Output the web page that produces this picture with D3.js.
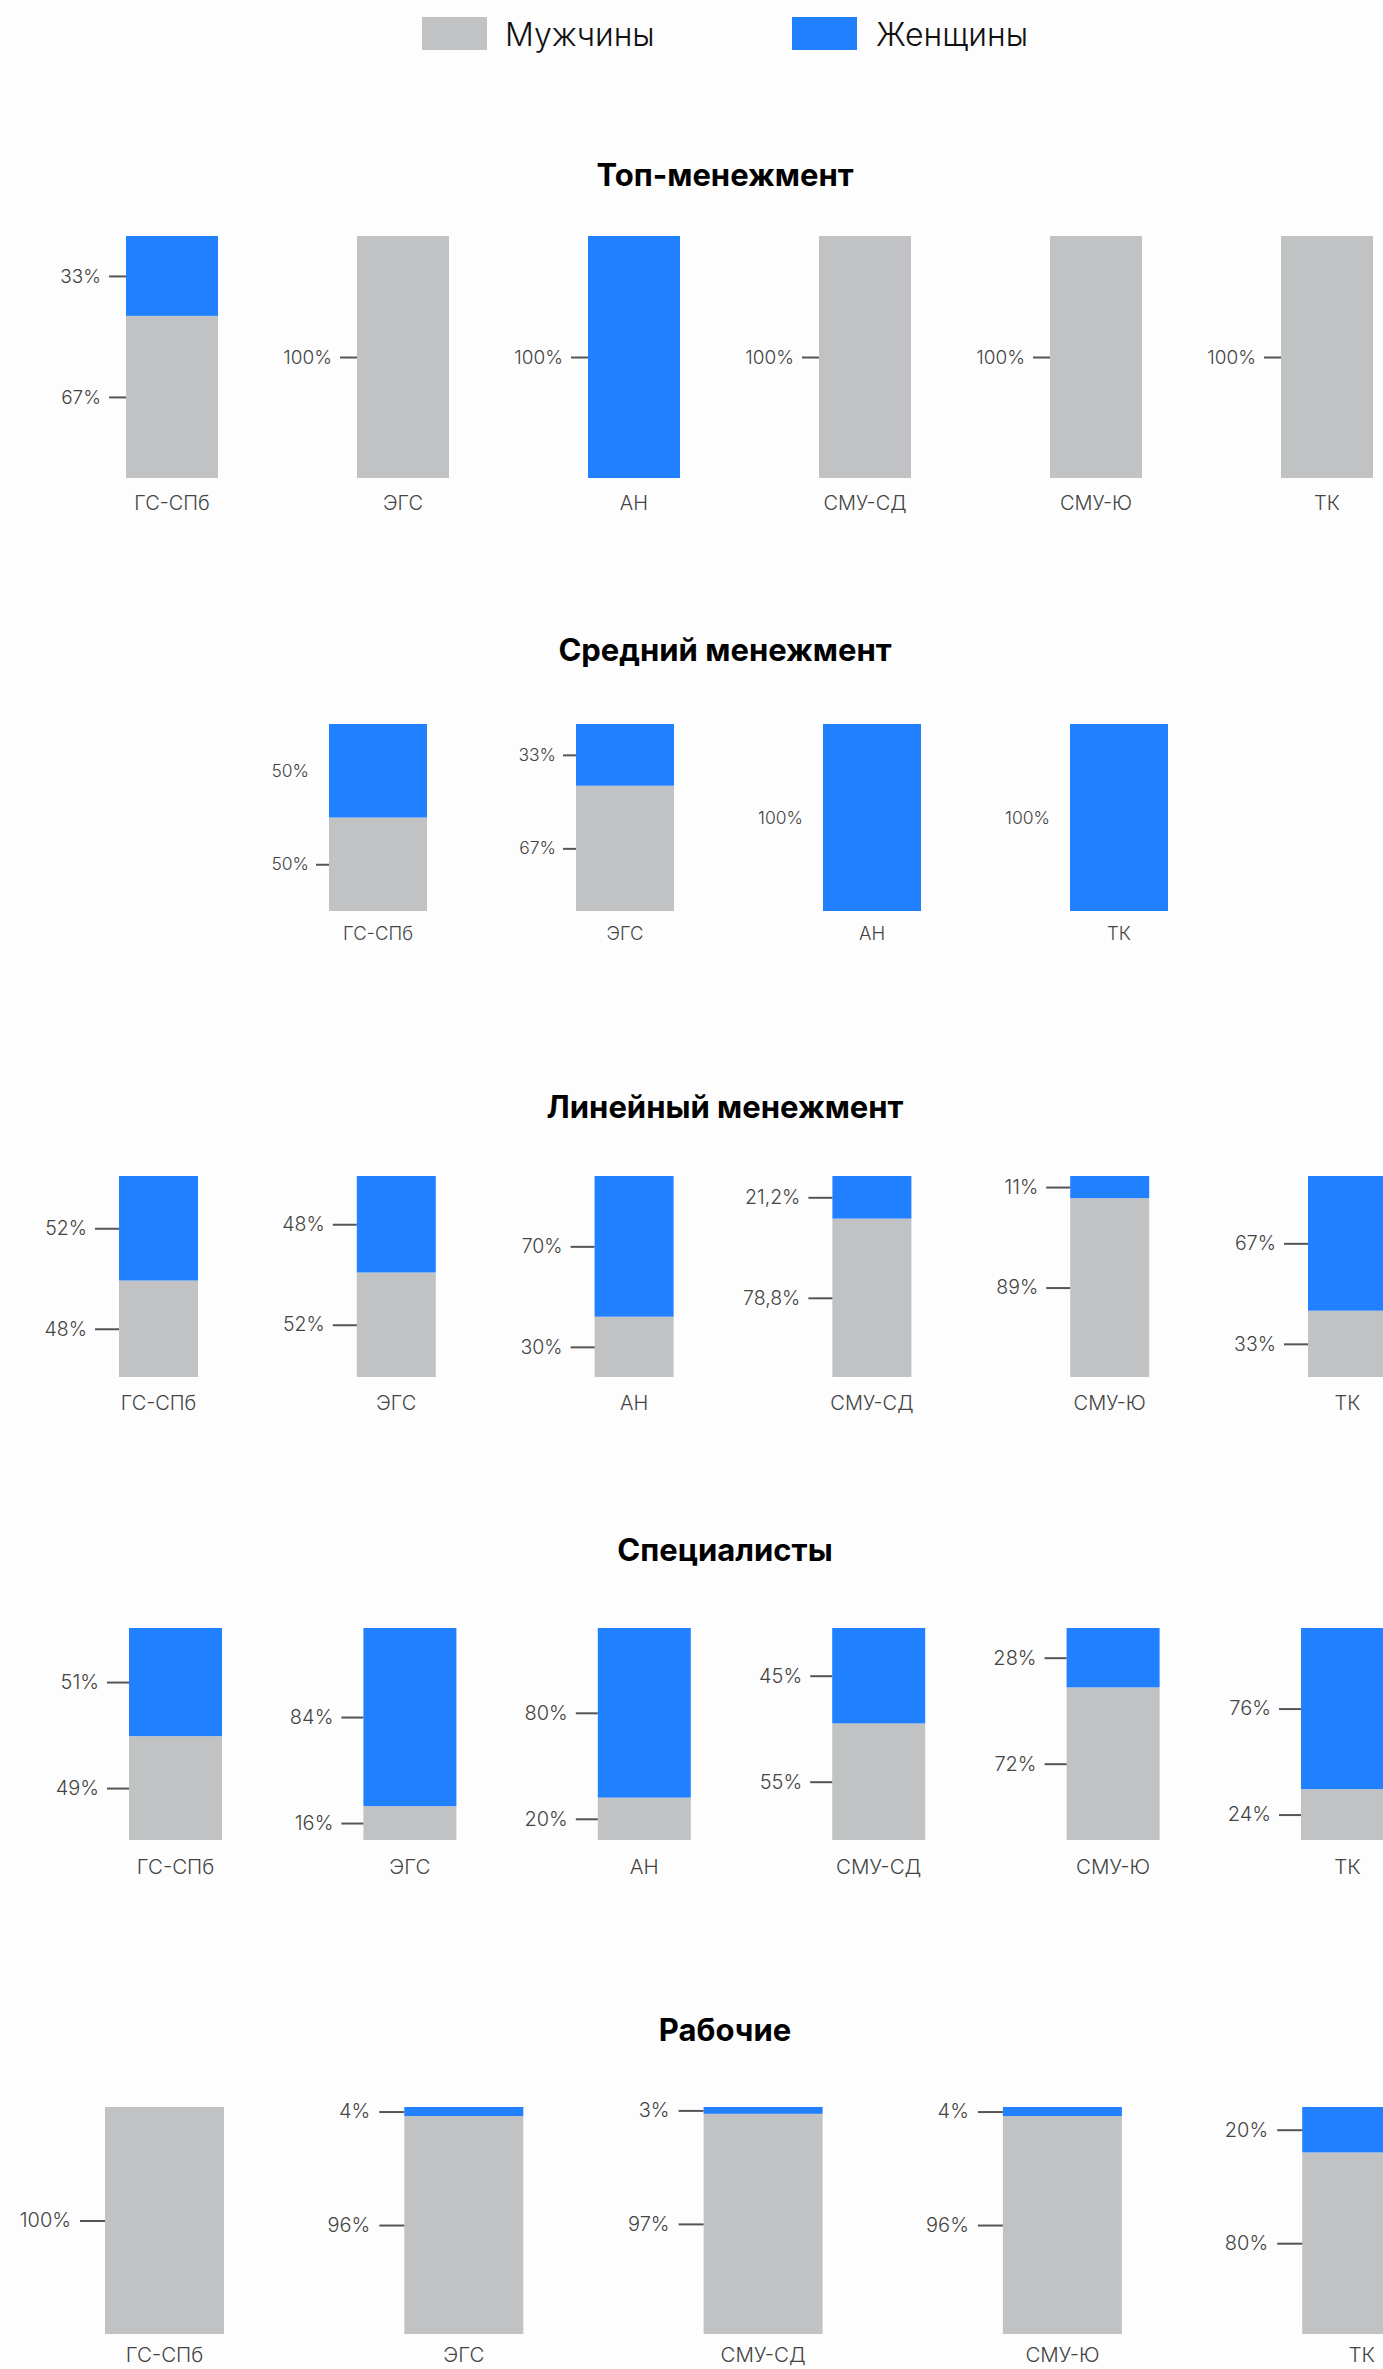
<!DOCTYPE html>
<html lang="ru">
<head>
<meta charset="utf-8">
<script src="https://cdn.jsdelivr.net/npm/d3@7"></script>
<style>
  html, body { margin: 0; padding: 0; background: #fdfdfd; }
  svg { display: block; }
  text { font-family: Inter, "Noto Sans", sans-serif; }
</style>
</head>
<body>
<svg id="chart" width="1383" height="2369"></svg>
<script>
// ---- Data ----
const seriesNames = ["Мужчины", "Женщины"];

const topTitle = "Топ-менежмент";
const topCategories = ["ГС-СПб", "ЭГС", "АН", "СМУ-СД", "СМУ-Ю", "ТК"];
const topMen   = [67, 100, 0, 100, 100, 100];
const topWomen = [33, 0, 100, 0, 0, 0];

const midTitle = "Средний менежмент";
const midCategories = ["ГС-СПб", "ЭГС", "АН", "ТК"];
const midMen   = [50, 67, 0, 0];
const midWomen = [50, 33, 100, 100];

const lineTitle = "Линейный менежмент";
const lineCategories = ["ГС-СПб", "ЭГС", "АН", "СМУ-СД", "СМУ-Ю", "ТК"];
const lineMen   = [48, 52, 30, 78.8, 89, 33];
const lineWomen = [52, 48, 70, 21.2, 11, 67];

const specTitle = "Специалисты";
const specCategories = ["ГС-СПб", "ЭГС", "АН", "СМУ-СД", "СМУ-Ю", "ТК"];
const specMen   = [49, 16, 20, 55, 72, 24];
const specWomen = [51, 84, 80, 45, 28, 76];

const workTitle = "Рабочие";
const workCategories = ["ГС-СПб", "ЭГС", "СМУ-СД", "СМУ-Ю", "ТК"];
const workMen   = [100, 96, 97, 96, 80];
const workWomen = [0, 4, 3, 4, 20];

// ---- Styles ----
const colors = { "Мужчины": "#c1c2c3", "Женщины": "#2180ff" };
const W = 1383, titleX = 725;

// Layout of each block of bars
const sections = [
  { title: topTitle,  cats: topCategories,  men: topMen,  women: topWomen,
    titleY: 175, top: 236, bottom: 478, x0: 126, bw: 92, step: 231, catY: 503,
    tick: 17, pad: 8, fs: 19, cfs: 20, hideTicks: [] },
  { title: midTitle,  cats: midCategories,  men: midMen,  women: midWomen,
    titleY: 650, top: 724, bottom: 911, x0: 329, bw: 98, step: 247, catY: 934,
    tick: 13, pad: 7, fs: 17.5, cfs: 18.5, hideTicks: ["ГС-СПб:Женщины", "АН:Женщины", "ТК:Женщины"] },
  { title: lineTitle, cats: lineCategories, men: lineMen, women: lineWomen,
    titleY: 1107, top: 1176, bottom: 1377, x0: 119, bw: 79, step: 237.8, catY: 1403,
    tick: 24, pad: 8, fs: 19.5, cfs: 20, hideTicks: [] },
  { title: specTitle, cats: specCategories, men: specMen, women: specWomen,
    titleY: 1550, top: 1628, bottom: 1840, x0: 129, bw: 93, step: 234.4, catY: 1867,
    tick: 22, pad: 8, fs: 20, cfs: 20.5, hideTicks: [] },
  { title: workTitle, cats: workCategories, men: workMen, women: workWomen,
    titleY: 2030, top: 2107, bottom: 2334, x0: 105, bw: 119, step: 299.3, catY: 2355,
    tick: 25, pad: 9, fs: 20, cfs: 20.5, hideTicks: [] }
];

const svg = d3.select("#chart");
svg.append("rect").attr("width", W).attr("height", 2369).attr("fill", "#fdfdfd");

// ---- Legend ----
const legendItems = [
  { name: seriesNames[0], sx: 422, tx: 505 },
  { name: seriesNames[1], sx: 792, tx: 876 }
];
const legend = svg.append("g").attr("class", "legend");
legend.selectAll("rect").data(legendItems).join("rect")
  .attr("x", d => d.sx).attr("y", 17).attr("width", 65).attr("height", 33)
  .attr("fill", d => colors[d.name]);
legend.selectAll("text").data(legendItems).join("text")
  .attr("x", d => d.tx).attr("y", 35).attr("dy", "0.35em")
  .attr("font-size", 32).attr("font-weight", 300).attr("fill", "#111")
  .text(d => d.name);

const fmt = v => String(v).replace(".", ",") + "%";

// ---- Sections ----
sections.forEach(s => {
  const g = svg.append("g");
  g.append("text")
    .attr("x", titleX).attr("y", s.titleY).attr("dy", "0.35em")
    .attr("text-anchor", "middle")
    .attr("font-size", 31).attr("font-weight", 700).attr("fill", "#000")
    .text(s.title);

  const rows = s.cats.map((c, i) => ({ cat: c, "Мужчины": s.men[i], "Женщины": s.women[i] }));
  const stacked = d3.stack().keys(seriesNames)(rows);

  const n = s.cats.length;
  const x = d3.scaleBand()
    .domain(s.cats)
    .range([s.x0, s.x0 + s.step * (n - 1) + s.bw])
    .paddingInner(1 - s.bw / s.step)
    .paddingOuter(0);
  const y = d3.scaleLinear().domain([0, 100]).range([s.bottom, s.top]);

  // bars
  stacked.forEach(layer => {
    g.append("g").attr("fill", colors[layer.key])
      .selectAll("rect").data(layer.filter(d => d[1] - d[0] > 0)).join("rect")
      .attr("x", d => x(d.data.cat))
      .attr("width", x.bandwidth())
      .attr("y", d => y(d[1]))
      .attr("height", d => y(d[0]) - y(d[1]));
  });

  // per-bar value axis: one tick at the middle of each segment
  s.cats.forEach((c, i) => {
    const segs = stacked
      .map(layer => ({ key: layer.key, lo: layer[i][0], hi: layer[i][1] }))
      .filter(d => d.hi - d.lo > 0);
    const mids = segs.map(d => (d.lo + d.hi) / 2);
    const lab = new Map(segs.map(d => [(d.lo + d.hi) / 2, d]));
    const axis = d3.axisLeft(y)
      .tickValues(mids)
      .tickSize(s.tick)
      .tickPadding(s.pad)
      .tickFormat(m => fmt(+(lab.get(m).hi - lab.get(m).lo).toFixed(1)));
    const ag = g.append("g")
      .attr("transform", `translate(${x(c)},0)`)
      .call(axis);
    ag.select(".domain").remove();
    ag.selectAll(".tick line")
      .attr("stroke", "#555").attr("stroke-width", 2)
      .attr("stroke-opacity", m => s.hideTicks.includes(c + ":" + lab.get(m).key) ? 0 : 1);
    ag.selectAll(".tick text")
      .attr("font-size", s.fs).attr("font-weight", 300)
      .attr("fill", "#444").attr("font-family", "Inter, 'Noto Sans', sans-serif");
  });

  // category labels
  const xa = g.append("g")
    .attr("transform", `translate(0,${s.catY})`)
    .call(d3.axisBottom(x).tickSize(0).tickPadding(0));
  xa.select(".domain").remove();
  xa.selectAll(".tick text")
    .attr("dy", "0.35em").attr("y", 0)
    .attr("font-size", s.cfs).attr("font-weight", 300)
    .attr("fill", "#444").attr("font-family", "Inter, 'Noto Sans', sans-serif");
});
</script>
</body>
</html>
